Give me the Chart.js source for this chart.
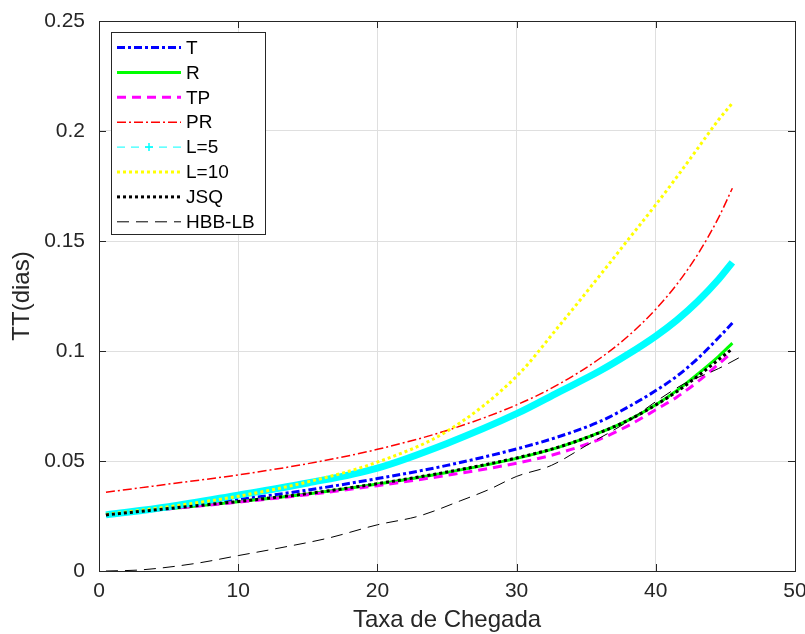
<!DOCTYPE html>
<html>
<head>
<meta charset="utf-8">
<script src="https://cdn.jsdelivr.net/npm/chart.js@4.4.1/dist/chart.umd.min.js"></script>
<style>
  html, body { margin: 0; padding: 0; background: #fff; }
  #wrap { width: 805px; height: 634px; }
</style>
</head>
<body>
<div id="wrap"><canvas id="chart" width="805" height="634"></canvas></div>
<script>
// valores
var taxas = [0.5, 5, 10, 15, 20, 25, 30, 33, 36, 38, 40, 41.5, 43, 44.5, 45.5];
var tempoT   = [0.0255, 0.0287, 0.0325, 0.0368, 0.0420, 0.0480, 0.0555, 0.0610, 0.0680, 0.0745, 0.0820, 0.0885, 0.0965, 0.1060, 0.1127];
var tempoR   = [0.0255, 0.0283, 0.0315, 0.0350, 0.0395, 0.0448, 0.0512, 0.0562, 0.0630, 0.0685, 0.0756, 0.0820, 0.0895, 0.0975, 0.1036];
var tempoTP  = [0.0255, 0.0282, 0.0313, 0.0347, 0.0388, 0.0435, 0.0490, 0.0535, 0.0600, 0.0660, 0.0733, 0.0790, 0.0860, 0.0940, 0.0995];
var tempoPR  = [0.0358, 0.0395, 0.0437, 0.0488, 0.0553, 0.0639, 0.0755, 0.0848, 0.0967, 0.1067, 0.1190, 0.1302, 0.1438, 0.1605, 0.1740];
var tempoL5  = [0.0255, 0.0292, 0.0345, 0.0400, 0.0468, 0.0580, 0.0715, 0.0812, 0.0910, 0.0985, 0.1068, 0.1140, 0.1225, 0.1325, 0.1403];
var tempoL10 = [0.0257, 0.0292, 0.0340, 0.0405, 0.0495, 0.0635, 0.0885, 0.1110, 0.1345, 0.1505, 0.1665, 0.1790, 0.1920, 0.2050, 0.2127];
var tempoJSQ = [0.0255, 0.0284, 0.0316, 0.0352, 0.0397, 0.0450, 0.0514, 0.0563, 0.0630, 0.0685, 0.0755, 0.0815, 0.0885, 0.0960, 0.1010];

var taxasHBB = [0.5, 3, 7, 10, 13, 16.5, 20, 23, 26, 28, 30, 32.5, 35, 38, 40, 42, 44.5, 46];
var tempoHBB = [0, 0.0005, 0.0035, 0.007, 0.0105, 0.015, 0.021, 0.025, 0.032, 0.037, 0.043, 0.048, 0.057, 0.068, 0.077, 0.085, 0.092, 0.097];

var xTicks = [0, 10, 20, 30, 40, 50];
var yTicks = [0, 0.05, 0.1, 0.15, 0.2, 0.25];

function pontos(xs, ys) {
    return xs.map(function (x, i) { return { x: x, y: ys[i] }; });
}

var series = [
    { label: 'T',      xs: taxas,    ys: tempoT,   color: '#0000ff', width: 3,   dash: [8, 3, 3, 3] },
    { label: 'R',      xs: taxas,    ys: tempoR,   color: '#00ff00', width: 3,   dash: [] },
    { label: 'TP',     xs: taxas,    ys: tempoTP,  color: '#ff00ff', width: 3,   dash: [9, 6] },
    { label: 'PR',     xs: taxas,    ys: tempoPR,  color: '#ff0000', width: 1.5, dash: [9, 3, 2, 3] },
    { label: 'L=5',    xs: taxas,    ys: tempoL5,  color: '#00ffff', width: 7,   dash: [], legendWidth: 1, legendDash: [8, 6], marker: true },
    { label: 'L=10',   xs: taxas,    ys: tempoL10, color: '#ffff00', width: 3,   dash: [3, 3] },
    { label: 'JSQ',    xs: taxas,    ys: tempoJSQ, color: '#000000', width: 3,   dash: [3, 3] },
    { label: 'HBB-LB', xs: taxasHBB, ys: tempoHBB, color: '#000000', width: 1,   dash: [12, 7] }
];

var datasets = series.map(function (s, i) {
    return {
        label: s.label,
        data: pontos(s.xs, s.ys),
        borderColor: s.color,
        backgroundColor: s.color,
        borderWidth: s.width,
        borderDash: s.dash,
        borderCapStyle: 'butt',
        pointRadius: 0,
        fill: false,
        cubicInterpolationMode: 'monotone',
        order: series.length - i,
        legendWidth: s.legendWidth || s.width,
        legendDash: s.legendDash || s.dash,
        marker: !!s.marker
    };
});

var eixoCor = '#262626';

// moldura e marcas internas estilo matlab
var caixaPlugin = {
    id: 'caixa',
    afterDatasetsDraw: function (chart) {
        var ctx = chart.ctx, a = chart.chartArea;
        var sx = chart.scales.x, sy = chart.scales.y;
        ctx.save();
        ctx.strokeStyle = eixoCor;
        ctx.lineWidth = 1;
        ctx.strokeRect(Math.round(a.left) + 0.5, Math.round(a.top) + 0.5,
            Math.round(a.right - a.left), Math.round(a.bottom - a.top));
        ctx.beginPath();
        xTicks.forEach(function (v) {
            var px = Math.round(sx.getPixelForValue(v)) + 0.5;
            ctx.moveTo(px, a.bottom); ctx.lineTo(px, a.bottom - 7);
            ctx.moveTo(px, a.top); ctx.lineTo(px, a.top + 7);
        });
        yTicks.forEach(function (v) {
            var py = Math.round(sy.getPixelForValue(v)) + 0.5;
            ctx.moveTo(a.left, py); ctx.lineTo(a.left + 7, py);
            ctx.moveTo(a.right, py); ctx.lineTo(a.right - 7, py);
        });
        ctx.stroke();
        ctx.restore();
    },
    afterDraw: function (chart) {
        var ctx = chart.ctx;
        var bx = 111.5, by = 32.5, bw = 154, bh = 202;
        ctx.save();
        ctx.fillStyle = '#ffffff';
        ctx.fillRect(bx, by, bw, bh);
        ctx.strokeStyle = eixoCor;
        ctx.lineWidth = 1;
        ctx.strokeRect(bx, by, bw, bh);
        ctx.font = '19px "Liberation Sans", Arial, sans-serif';
        ctx.textBaseline = 'middle';
        chart.data.datasets.forEach(function (ds, i) {
            var y = 47.5 + i * 24.9;
            ctx.strokeStyle = ds.borderColor;
            ctx.lineWidth = ds.legendWidth;
            ctx.setLineDash(ds.legendDash);
            ctx.lineCap = 'butt';
            ctx.beginPath();
            ctx.moveTo(117, y); ctx.lineTo(181, y);
            ctx.stroke();
            ctx.setLineDash([]);
            if (ds.marker) {
                ctx.lineWidth = 1.5;
                ctx.beginPath();
                ctx.moveTo(149, y - 4); ctx.lineTo(149, y + 4);
                ctx.moveTo(145, y); ctx.lineTo(153, y);
                ctx.stroke();
            }
            ctx.fillStyle = '#000000';
            ctx.fillText(ds.label, 186, y + 1);
        });
        ctx.restore();
    }
};

var fonteTicks = { family: '"Liberation Sans", Arial, sans-serif', size: 21 };
var fonteTitulo = { family: '"Liberation Sans", Arial, sans-serif', size: 24 };

new Chart(document.getElementById('chart').getContext('2d'), {
    type: 'line',
    data: { datasets: datasets },
    plugins: [caixaPlugin],
    options: {
        responsive: false,
        animation: false,
        layout: { padding: { top: 21, right: 10, left: 0, bottom: 0 } },
        plugins: { legend: { display: false }, tooltip: { enabled: false } },
        scales: {
            x: {
                type: 'linear',
                min: 0, max: 50,
                afterFit: function (s) { s.height = 63; s.paddingLeft = 0; s.paddingRight = 0; },
                afterBuildTicks: function (s) { s.ticks = xTicks.map(function (v) { return { value: v }; }); },
                grid: { color: '#dfdfdf', drawTicks: false },
                border: { display: false },
                ticks: { color: eixoCor, font: fonteTicks, padding: 8, maxRotation: 0 },
                title: { display: true, text: 'Taxa de Chegada', color: eixoCor, font: fonteTitulo, padding: { top: 0, bottom: -1 } }
            },
            y: {
                min: 0, max: 0.25,
                afterFit: function (s) { s.width = 99; s.paddingTop = 0; s.paddingBottom = 0; },
                afterBuildTicks: function (s) { s.ticks = yTicks.map(function (v) { return { value: v }; }); },
                grid: { color: '#dfdfdf', drawTicks: false },
                border: { display: false },
                ticks: {
                    color: eixoCor, font: fonteTicks, padding: 14,
                    callback: function (v) { return String(Math.round(v * 100) / 100); }
                },
                title: { display: true, text: 'TT(dias)', color: eixoCor, font: fonteTitulo, padding: { top: 8, bottom: 0 } }
            }
        }
    }
});
</script>
</body>
</html>
